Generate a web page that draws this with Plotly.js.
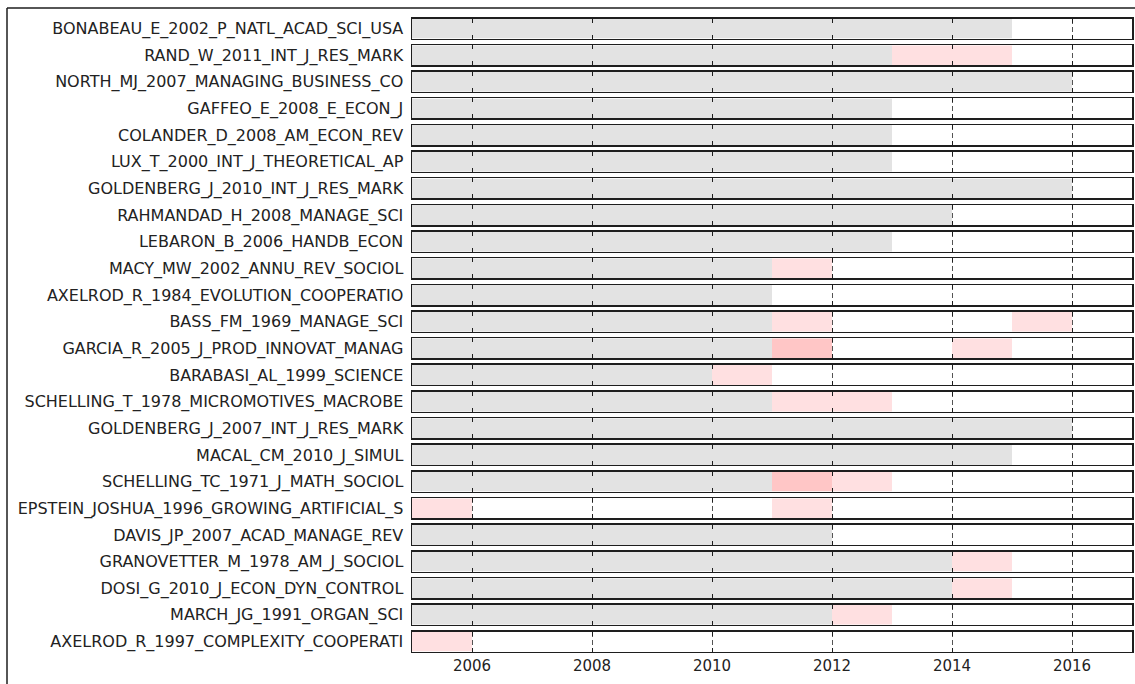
<!DOCTYPE html>
<html><head><meta charset="utf-8">
<script src="https://cdn.plot.ly/plotly-3.0.1.min.js"></script>
<style>html,body{margin:0;padding:0;background:#fff}#chart{width:1135px;height:684px}</style>
</head><body><div id="chart"></div>
<script>
// ---- data ----
const labels = [
  "BONABEAU_E_2002_P_NATL_ACAD_SCI_USA","RAND_W_2011_INT_J_RES_MARK","NORTH_MJ_2007_MANAGING_BUSINESS_CO",
  "GAFFEO_E_2008_E_ECON_J","COLANDER_D_2008_AM_ECON_REV","LUX_T_2000_INT_J_THEORETICAL_AP",
  "GOLDENBERG_J_2010_INT_J_RES_MARK","RAHMANDAD_H_2008_MANAGE_SCI","LEBARON_B_2006_HANDB_ECON",
  "MACY_MW_2002_ANNU_REV_SOCIOL","AXELROD_R_1984_EVOLUTION_COOPERATIO","BASS_FM_1969_MANAGE_SCI",
  "GARCIA_R_2005_J_PROD_INNOVAT_MANAG","BARABASI_AL_1999_SCIENCE","SCHELLING_T_1978_MICROMOTIVES_MACROBE",
  "GOLDENBERG_J_2007_INT_J_RES_MARK","MACAL_CM_2010_J_SIMUL","SCHELLING_TC_1971_J_MATH_SOCIOL",
  "EPSTEIN_JOSHUA_1996_GROWING_ARTIFICIAL_S","DAVIS_JP_2007_ACAD_MANAGE_REV","GRANOVETTER_M_1978_AM_J_SOCIOL",
  "DOSI_G_2010_J_ECON_DYN_CONTROL","MARCH_JG_1991_ORGAN_SCI","AXELROD_R_1997_COMPLEXITY_COOPERATI"
];
// year where the grey band ends (grey runs from the axis start); null = no grey
const grayEnd = [2015, 2013, 2016, 2013, 2013, 2013, 2016, 2014, 2013, 2011, 2011, 2011,
                 2011, 2010, 2011, 2016, 2015, 2011, null, 2012, 2014, 2014, 2012, null];
// burst years (one-year cells) and intensity level (1 light, 2 strong)
const burstYears = [[], [2013, 2014], [], [], [], [], [], [], [], [2011], [], [2011, 2015],
                    [2011, 2014], [2010], [2011, 2012], [], [], [2011, 2012], [2005, 2011],
                    [], [2014], [2014], [2012], [2005]];
const burstLevel = [[], [1, 1], [], [], [], [], [], [], [], [1], [], [1, 1],
                    [2, 1], [1], [1, 1], [], [], [2, 1], [1, 1],
                    [], [1], [1], [1], [1]];
const xTicks = [2006, 2008, 2010, 2012, 2014, 2016];
const xStart = 2005, xEnd = 2017;

// ---- style ----
const GRAY = '#e3e3e3';
const PINK = {1: '#ffe0e1', 2: '#ffc6c6'};
const LINE = '#1e1e1e';
const LABEL_FONT = {family: 'DejaVu Sans', size: 16, color: '#222'};
const TICK_FONT = {family: 'DejaVu Sans', size: 15, color: '#222'};

const W = 1135, H = 684;
const mL = 412, mR = 3, mT = 17, mB = 31;
const plotW = W - mL - mR, plotH = H - mT - mB;
const n = labels.length;
const lw = 1.5;
const boxOuter = 23;
const pitch = (plotH - boxOuter) / (n - 1);

const traces = [];
const layout = {
  width: W, height: H,
  margin: {l: mL, r: mR, t: mT, b: mB, pad: 0},
  paper_bgcolor: '#fff', plot_bgcolor: 'rgba(0,0,0,0)',
  showlegend: false, barmode: 'overlay', font: LABEL_FONT,
  shapes: [
    {type: 'line', xref: 'paper', yref: 'paper',
     x0: (7 - mL) / plotW, x1: (7 - mL) / plotW, y0: -0.2, y1: 1 + (mT - 8) / plotH,
     line: {color: LINE, width: 1.5}},
    {type: 'line', xref: 'paper', yref: 'paper',
     x0: (7 - mL) / plotW, x1: 1.05, y0: 1 + (mT - 8) / plotH, y1: 1 + (mT - 8) / plotH,
     line: {color: LINE, width: 1.5}}
  ]
};

for (let i = 0; i < n; i++) {
  const k = i === 0 ? '' : String(i + 1);
  const xa = 'x' + k, ya = 'y' + k;
  const topPx = i * pitch + lw;
  const botPx = i * pitch + boxOuter - lw;
  const d1 = 1 - topPx / plotH, d0 = 1 - botPx / plotH;

  layout['xaxis' + k] = {
    anchor: ya, domain: [0, 1], range: [xStart, xEnd], type: 'linear',
    tickmode: 'array', tickvals: xTicks, ticktext: xTicks.map(String),
    ticks: 'inside', ticklen: 4, tickwidth: 1, tickcolor: LINE,
    mirror: 'ticks', showline: true, linecolor: LINE, linewidth: lw,
    showgrid: true, gridcolor: '#555', gridwidth: 1, griddash: '5px,3px',
    zeroline: false, showticklabels: i === n - 1, tickfont: TICK_FONT,
    layer: 'above traces', fixedrange: true
  };
  layout['yaxis' + k] = {
    anchor: xa, domain: [d0, d1], range: [-0.5, 0.5], type: 'linear',
    tickmode: 'array', tickvals: [0], ticktext: [labels[i]], ticks: '',
    showline: true, mirror: true, linecolor: LINE, linewidth: lw,
    showgrid: false, zeroline: false, tickfont: LABEL_FONT, ticklabelstandoff: 4,
    fixedrange: true
  };

  if (grayEnd[i] !== null) {
    traces.push({type: 'bar', orientation: 'h', xaxis: xa, yaxis: ya,
      y: [0], base: [xStart], x: [grayEnd[i] - xStart], width: 1,
      marker: {color: GRAY, line: {width: 0}}, hoverinfo: 'skip'});
  }
  if (burstYears[i].length) {
    traces.push({type: 'bar', orientation: 'h', xaxis: xa, yaxis: ya,
      y: burstYears[i].map(() => 0), base: burstYears[i],
      x: burstYears[i].map(() => 1), width: 1,
      marker: {color: burstLevel[i].map(l => PINK[l]), line: {width: 0}},
      hoverinfo: 'skip'});
  }
}

Plotly.newPlot('chart', traces, layout, {staticPlot: true, displayModeBar: false});
</script>
</body></html>
